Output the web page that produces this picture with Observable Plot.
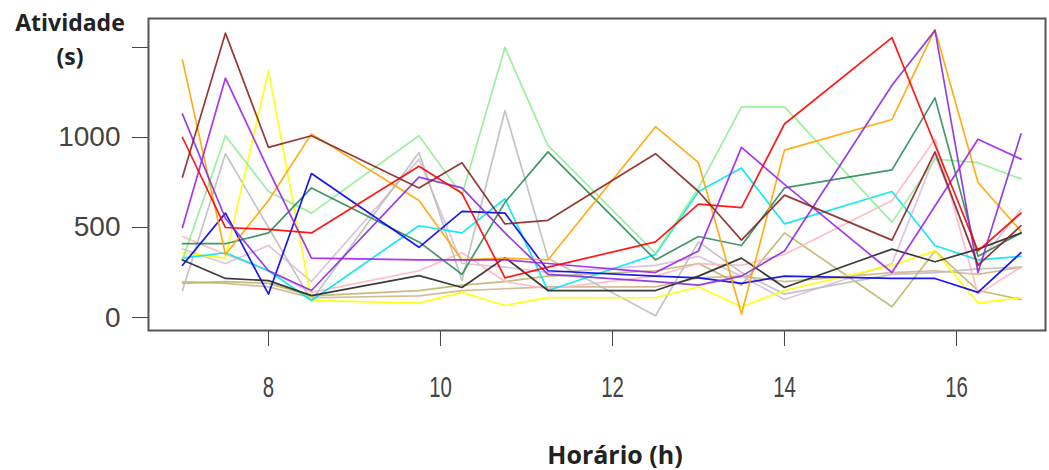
<!DOCTYPE html>
<html>
<head>
<meta charset="utf-8">
<script src="https://cdn.jsdelivr.net/npm/d3@7"></script>
<script src="https://cdn.jsdelivr.net/npm/@observablehq/plot@0.6"></script>
<style>
  body { margin: 0; background: #fff; }
  #wrap { position: relative; width: 1049px; height: 470px; overflow: hidden; }
  .ttl { position: absolute; font-family: "Open Sans", sans-serif; font-weight: 700; color: #222; text-align: center; }
  [aria-label^="x-axis"] text { font-family: "Liberation Sans", Arial, sans-serif; font-size: 30px; fill: #444; }
  [aria-label^="y-axis"] text { font-family: "Liberation Sans", Arial, sans-serif; font-size: 28px; fill: #444; }
</style>
</head>
<body>
<div id="wrap">
  <div class="ttl" style="left:0px; top:5px; width:140px; line-height:34px; font-size:23px;">Atividade<br>(s)</div>
  <div class="ttl" style="left:495px; top:437px; width:240px; font-size:25px;">Horário (h)</div>
</div>
<script>
const times = [7, 7.5, 8, 8.5, 9.75, 10.25, 10.75, 11.25, 12.5, 13, 13.5, 14, 15.25, 15.75, 16.25, 16.75];
const xTicks = [8, 10, 12, 14, 16];
const yTicks = [0, 500, 1000, 1500];
const yTickLabels = ["0", "500", "1000", ""];

const brown      = [780, 1580, 945, 1010, 720, 860, 520, 540, 910, 700, 430, 680, 430, 920, 290, 510];
const orange     = [1430, 350, 650, 1020, 650, 320, 330, 320, 1060, 860, 20, 930, 1100, 1600, 750, 480];
const purple     = [500, 1330, 820, 330, 320, 320, 320, 300, 250, 370, 945, 740, 250, 620, 990, 880];
const blueviolet = [1130, 550, 260, 150, 780, 720, 470, 240, 200, 180, 230, 370, 1290, 1595, 250, 1020];
const red        = [1000, 500, 490, 470, 840, 690, 220, 280, 420, 630, 610, 1075, 1555, 960, 370, 580];
const yellow     = [360, 330, 1370, 95, 80, 140, 67, 111, 110, 170, 60, 150, 290, 370, 80, 110];
const lightgreen = [320, 1010, 700, 580, 1010, 680, 1500, 955, 356, 720, 1170, 1170, 530, 880, 860, 770];
const seagreen   = [410, 410, 470, 720, 420, 240, 640, 920, 320, 450, 400, 720, 820, 1220, 340, 470];
const blue       = [290, 580, 130, 800, 390, 590, 580, 260, 230, 220, 190, 230, 217, 217, 140, 360];
const turquoise  = [330, 360, 260, 95, 510, 470, 660, 150, 350, 700, 830, 520, 700, 400, 320, 340];
const black      = [320, 217, 205, 122, 233, 167, 333, 150, 150, 230, 330, 167, 380, 310, 380, 470];
const gray       = [150, 910, 500, 94, 917, 206, 1150, 330, 10, 420, 250, 130, 240, 250, 270, 280];
const pink       = [450, 350, 260, 140, 260, 360, 200, 160, 230, 300, 290, 350, 650, 990, 130, 280];
const khaki      = [190, 200, 190, 120, 150, 180, 200, 230, 260, 300, 180, 470, 60, 370, 150, 100];
const tan        = [200, 190, 170, 110, 120, 150, 160, 170, 170, 220, 230, 200, 250, 260, 240, 280];
const thistle    = [380, 300, 400, 200, 880, 300, 280, 250, 290, 340, 230, 100, 300, 900, 300, 600];

const seriesValues = [tan, khaki, thistle, pink, gray, yellow, turquoise, lightgreen, seagreen, blue, black, orange, purple, blueviolet, red, brown];
const seriesColors = ["#D2B48C", "#BDB76B", "#D8BFD8", "#FFB6C1", "#BEBEBE", "#FFFF00", "#00E5EE", "#90EE90", "#2E8B57", "#0000EE", "#262626", "#FFA500", "#A020F0", "#8A2BE2", "#FF0000", "#8B2323"];

const lineMarks = seriesValues.map((vals, k) =>
  Plot.line(vals, {x: (d, i) => times[i], y: d => d, stroke: seriesColors[k], strokeWidth: 1.7, strokeOpacity: 0.9})
);

const chart = Plot.plot({
  width: 1049,
  height: 470,
  marginLeft: 148,
  marginRight: 4,
  marginTop: 18,
  marginBottom: 140,
  style: {background: "transparent", color: "#444"},
  x: {domain: [6.605, 17.035], ticks: xTicks, tickSize: 16, tickPadding: 29, label: null, tickFormat: d => String(d)},
  y: {domain: [-72, 1661], ticks: yTicks, tickSize: 16, tickPadding: 12, label: null, tickFormat: (d, i) => yTickLabels[yTicks.indexOf(d)]},
  marks: [
    ...lineMarks,
    Plot.frame({stroke: "#555", strokeWidth: 2})
  ]
});
document.getElementById("wrap").prepend(chart);
// condense x tick labels horizontally, like the reference
d3.select(chart).selectAll('[aria-label^="x-axis"] text').each(function() {
  const t = this.getAttribute("transform") || "";
  this.setAttribute("transform", (t + " scale(0.68,1)").trim());
});
</script>
</body>
</html>
